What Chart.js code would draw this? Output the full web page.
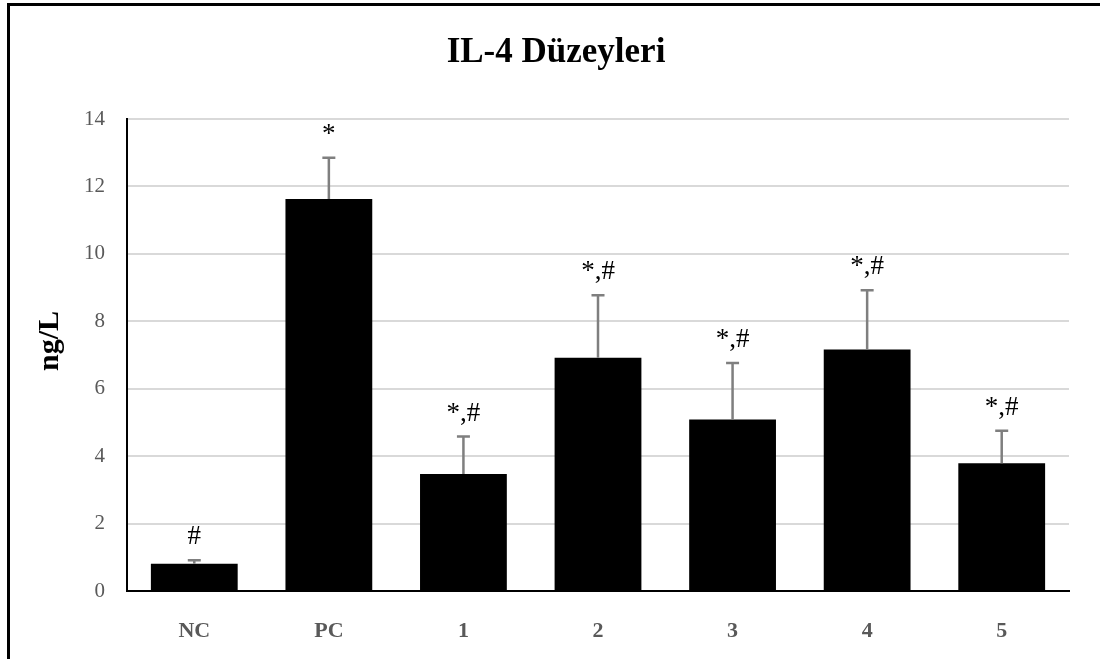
<!DOCTYPE html>
<html>
<head>
<meta charset="utf-8">
<script src="https://cdn.jsdelivr.net/npm/chart.js@4/dist/chart.umd.min.js"></script>
<style>
  html, body { margin: 0; padding: 0; background: #ffffff; }
  canvas { display: block; }
</style>
</head>
<body>
<canvas id="il4" width="1100" height="659"></canvas>
<script>
// IL-4 levels per group (ng/L): mean, upper error (SD) and significance marks
const groups = ['NC', 'PC', '1', '2', '3', '4', '5'];
const means = [0.81, 11.63, 3.47, 6.92, 5.09, 7.16, 3.79];
const errors = [0.10, 1.22, 1.11, 1.85, 1.67, 1.76, 0.96];
const marks = ['#', '*', '*,#', '*,#', '*,#', '*,#', '*,#'];
const yTicks = [0, 2, 4, 6, 8, 10, 12, 14];

const SERIF = '"Liberation Serif", "Times New Roman", serif';

// Upper-only error bars with a cap, plus the significance text above each cap
const errorBarPlugin = {
  id: 'errorBars',
  afterDatasetsDraw(chart) {
    const { ctx, scales: { y } } = chart;
    const meta = chart.getDatasetMeta(0);
    ctx.save();
    meta.data.forEach((bar, i) => {
      const top = y.getPixelForValue(means[i]);
      const cap = y.getPixelForValue(means[i] + errors[i]);
      ctx.strokeStyle = '#7f7f7f';
      ctx.lineWidth = 2.5;
      ctx.beginPath();
      ctx.moveTo(bar.x, top);
      ctx.lineTo(bar.x, cap);
      ctx.moveTo(bar.x - 6.5, cap);
      ctx.lineTo(bar.x + 6.5, cap);
      ctx.stroke();

      ctx.fillStyle = '#000000';
      ctx.font = '27px ' + SERIF;
      ctx.textAlign = 'center';
      ctx.textBaseline = 'alphabetic';
      ctx.fillText(marks[i], bar.x, cap - 16);
    });
    ctx.restore();
  }
};

// Frame lines along the top and left edges, the heading and the value-axis title
const framePlugin = {
  id: 'frame',
  afterDraw(chart) {
    const { ctx, width, height } = chart;
    ctx.save();
    ctx.fillStyle = '#000000';
    ctx.fillRect(7, 3, width - 7, 3);
    ctx.fillRect(7, 3, 3, height - 3);

    ctx.font = 'bold 35px ' + SERIF;
    ctx.textAlign = 'center';
    ctx.textBaseline = 'middle';
    ctx.fillText('IL-4 Düzeyleri', 556, 53);

    ctx.translate(50, 341);
    ctx.rotate(-Math.PI / 2);
    ctx.font = 'bold 30px ' + SERIF;
    ctx.fillText('ng/L', 0, 0);
    ctx.restore();
  }
};

new Chart(document.getElementById('il4'), {
  type: 'bar',
  data: {
    labels: groups,
    datasets: [{
      data: means,
      backgroundColor: '#000000',
      borderWidth: 0,
      barPercentage: 0.645,
      categoryPercentage: 1.0
    }]
  },
  options: {
    responsive: false,
    animation: false,
    devicePixelRatio: 1,
    layout: { padding: { top: 119, right: 31, bottom: 0, left: 0 } },
    plugins: {
      legend: { display: false },
      title: { display: false },
      tooltip: { enabled: false }
    },
    scales: {
      x: {
        grid: { display: false, drawTicks: false },
        border: { display: true, color: '#000000', width: 2 },
        ticks: {
          color: '#595959',
          font: { family: SERIF, size: 22, weight: 'bold' },
          padding: 27
        },
        afterFit(scale) { scale.height = 68; }
      },
      y: {
        min: 0,
        max: 14,
        afterBuildTicks(scale) { scale.ticks = yTicks.map(v => ({ value: v })); },
        grid: { color: '#d9d9d9', lineWidth: 2, drawTicks: false },
        border: { display: true, color: '#000000', width: 2 },
        ticks: {
          color: '#595959',
          font: { family: SERIF, size: 21 },
          padding: 22
        },
        afterFit(scale) { scale.width = 127; }
      }
    }
  },
  plugins: [errorBarPlugin, framePlugin]
});
</script>
</body>
</html>
